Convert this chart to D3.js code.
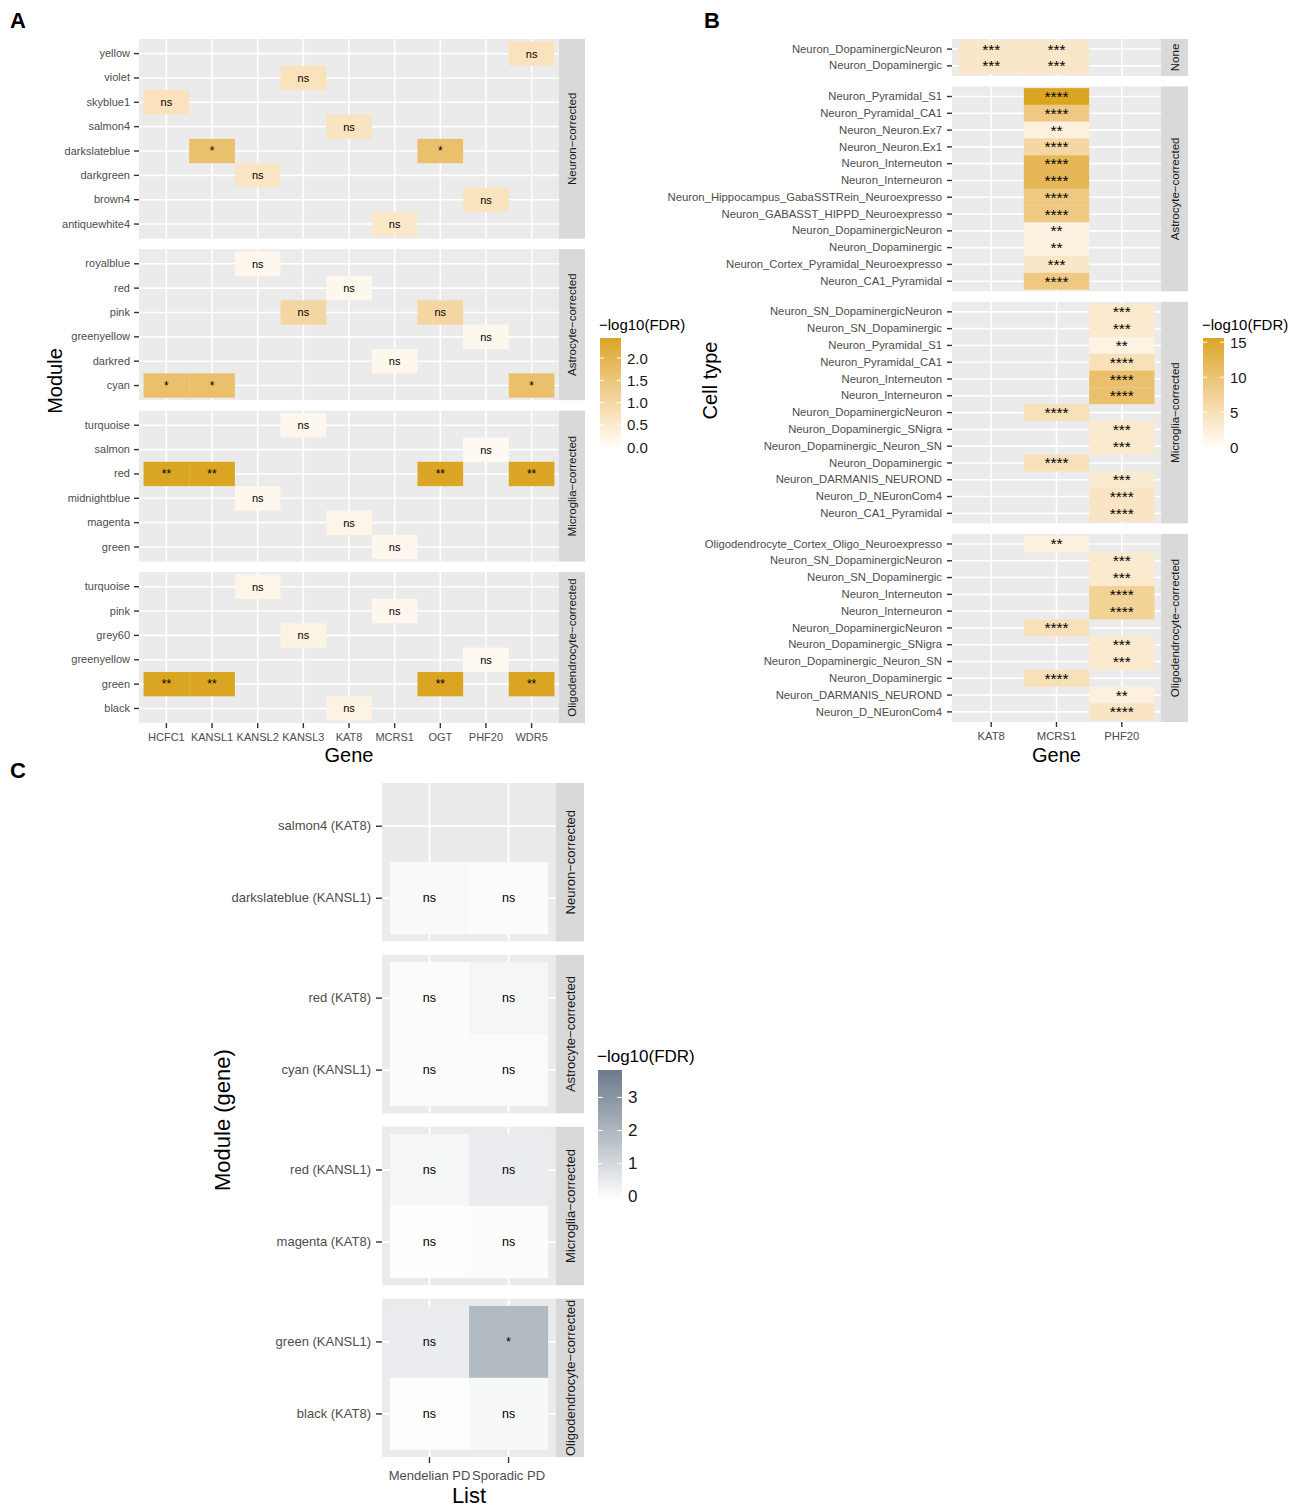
<!DOCTYPE html>
<html>
<head>
<meta charset="utf-8">
<script src="https://cdn.jsdelivr.net/npm/d3@7"></script>
<style>
  body { margin: 0; background: #fff; }
  svg { display: block; font-family: "Liberation Sans", Arial, Helvetica, sans-serif; }
</style>
</head>
<body>
<svg id="fig" width="1296" height="1510"></svg>
<script>
// ---- panel A: module x gene enrichment ----
const genesA = ["HCFC1", "KANSL1", "KANSL2", "KANSL3", "KAT8", "MCRS1", "OGT", "PHF20", "WDR5"]
const stripsA = ["Neuron−corrected", "Astrocyte−corrected", "Microglia−corrected", "Oligodendrocyte−corrected"]
const modulesA = [
  ["yellow", "violet", "skyblue1", "salmon4", "darkslateblue", "darkgreen", "brown4", "antiquewhite4"],
  ["royalblue", "red", "pink", "greenyellow", "darkred", "cyan"],
  ["turquoise", "salmon", "red", "midnightblue", "magenta", "green"],
  ["turquoise", "pink", "grey60", "greenyellow", "green", "black"]
]
// [facet, module, gene, -log10(FDR), label]
const tilesA = [
  [0, "yellow", "WDR5", 0.75, "ns"],
  [0, "violet", "KANSL3", 0.75, "ns"],
  [0, "skyblue1", "HCFC1", 0.75, "ns"],
  [0, "salmon4", "KAT8", 0.7, "ns"],
  [0, "darkslateblue", "KANSL1", 1.65, "*"],
  [0, "darkslateblue", "OGT", 1.65, "*"],
  [0, "darkgreen", "KANSL2", 0.65, "ns"],
  [0, "brown4", "PHF20", 0.7, "ns"],
  [0, "antiquewhite4", "MCRS1", 0.6, "ns"],
  [1, "royalblue", "KANSL2", 0.2, "ns"],
  [1, "red", "KAT8", 0.2, "ns"],
  [1, "pink", "KANSL3", 1.05, "ns"],
  [1, "pink", "OGT", 1.05, "ns"],
  [1, "greenyellow", "PHF20", 0.2, "ns"],
  [1, "darkred", "MCRS1", 0.2, "ns"],
  [1, "cyan", "HCFC1", 1.65, "*"],
  [1, "cyan", "KANSL1", 1.65, "*"],
  [1, "cyan", "WDR5", 1.65, "*"],
  [2, "turquoise", "KANSL3", 0.2, "ns"],
  [2, "salmon", "PHF20", 0.15, "ns"],
  [2, "red", "HCFC1", 2.39, "**"],
  [2, "red", "KANSL1", 2.39, "**"],
  [2, "red", "OGT", 2.35, "**"],
  [2, "red", "WDR5", 2.35, "**"],
  [2, "midnightblue", "KANSL2", 0.2, "ns"],
  [2, "magenta", "KAT8", 0.25, "ns"],
  [2, "green", "MCRS1", 0.2, "ns"],
  [3, "turquoise", "KANSL2", 0.25, "ns"],
  [3, "pink", "MCRS1", 0.2, "ns"],
  [3, "grey60", "KANSL3", 0.3, "ns"],
  [3, "greenyellow", "PHF20", 0.15, "ns"],
  [3, "green", "HCFC1", 2.39, "**"],
  [3, "green", "KANSL1", 2.39, "**"],
  [3, "green", "OGT", 2.39, "**"],
  [3, "green", "WDR5", 2.39, "**"],
  [3, "black", "KAT8", 0.3, "ns"]
]
const breaksA = [0, 0.5, 1, 1.5, 2]
const maxA = 2.39

// ---- panel B: cell type x gene ----
const genesB = ["KAT8", "MCRS1", "PHF20"]
const stripsB = ["None", "Astrocyte−corrected", "Microglia−corrected", "Oligodendrocyte−corrected"]
const cellTypesB = [
  ["Neuron_DopaminergicNeuron", "Neuron_Dopaminergic"],
  ["Neuron_Pyramidal_S1", "Neuron_Pyramidal_CA1", "Neuron_Neuron.Ex7", "Neuron_Neuron.Ex1",
   "Neuron_Interneuton", "Neuron_Interneuron", "Neuron_Hippocampus_GabaSSTRein_Neuroexpresso",
   "Neuron_GABASST_HIPPD_Neuroexpresso", "Neuron_DopaminergicNeuron", "Neuron_Dopaminergic",
   "Neuron_Cortex_Pyramidal_Neuroexpresso", "Neuron_CA1_Pyramidal"],
  ["Neuron_SN_DopaminergicNeuron", "Neuron_SN_Dopaminergic", "Neuron_Pyramidal_S1", "Neuron_Pyramidal_CA1",
   "Neuron_Interneuton", "Neuron_Interneuron", "Neuron_DopaminergicNeuron", "Neuron_Dopaminergic_SNigra",
   "Neuron_Dopaminergic_Neuron_SN", "Neuron_Dopaminergic", "Neuron_DARMANIS_NEUROND",
   "Neuron_D_NEuronCom4", "Neuron_CA1_Pyramidal"],
  ["Oligodendrocyte_Cortex_Oligo_Neuroexpresso", "Neuron_SN_DopaminergicNeuron", "Neuron_SN_Dopaminergic",
   "Neuron_Interneuton", "Neuron_Interneuron", "Neuron_DopaminergicNeuron", "Neuron_Dopaminergic_SNigra",
   "Neuron_Dopaminergic_Neuron_SN", "Neuron_Dopaminergic", "Neuron_DARMANIS_NEUROND", "Neuron_D_NEuronCom4"]
]
const tilesB = [
  [0, "Neuron_DopaminergicNeuron", "KAT8", 4, "***"],
  [0, "Neuron_DopaminergicNeuron", "MCRS1", 4, "***"],
  [0, "Neuron_Dopaminergic", "KAT8", 4, "***"],
  [0, "Neuron_Dopaminergic", "MCRS1", 4, "***"],
  [1, "Neuron_Pyramidal_S1", "MCRS1", 15.2, "****"],
  [1, "Neuron_Pyramidal_CA1", "MCRS1", 9, "****"],
  [1, "Neuron_Neuron.Ex7", "MCRS1", 2.3, "**"],
  [1, "Neuron_Neuron.Ex1", "MCRS1", 6.5, "****"],
  [1, "Neuron_Interneuton", "MCRS1", 12, "****"],
  [1, "Neuron_Interneuron", "MCRS1", 12, "****"],
  [1, "Neuron_Hippocampus_GabaSSTRein_Neuroexpresso", "MCRS1", 9, "****"],
  [1, "Neuron_GABASST_HIPPD_Neuroexpresso", "MCRS1", 9, "****"],
  [1, "Neuron_DopaminergicNeuron", "MCRS1", 2.2, "**"],
  [1, "Neuron_Dopaminergic", "MCRS1", 2.2, "**"],
  [1, "Neuron_Cortex_Pyramidal_Neuroexpresso", "MCRS1", 4, "***"],
  [1, "Neuron_CA1_Pyramidal", "MCRS1", 9, "****"],
  [2, "Neuron_SN_DopaminergicNeuron", "PHF20", 3.5, "***"],
  [2, "Neuron_SN_Dopaminergic", "PHF20", 3.5, "***"],
  [2, "Neuron_Pyramidal_S1", "PHF20", 2, "**"],
  [2, "Neuron_Pyramidal_CA1", "PHF20", 5, "****"],
  [2, "Neuron_Interneuton", "PHF20", 10.5, "****"],
  [2, "Neuron_Interneuron", "PHF20", 10.5, "****"],
  [2, "Neuron_DopaminergicNeuron", "MCRS1", 5, "****"],
  [2, "Neuron_Dopaminergic_SNigra", "PHF20", 3.5, "***"],
  [2, "Neuron_Dopaminergic_Neuron_SN", "PHF20", 3.5, "***"],
  [2, "Neuron_Dopaminergic", "MCRS1", 5, "****"],
  [2, "Neuron_DARMANIS_NEUROND", "PHF20", 3.3, "***"],
  [2, "Neuron_D_NEuronCom4", "PHF20", 4.3, "****"],
  [2, "Neuron_CA1_Pyramidal", "PHF20", 4.3, "****"],
  [3, "Oligodendrocyte_Cortex_Oligo_Neuroexpresso", "MCRS1", 2.3, "**"],
  [3, "Neuron_SN_DopaminergicNeuron", "PHF20", 3.5, "***"],
  [3, "Neuron_SN_Dopaminergic", "PHF20", 3.5, "***"],
  [3, "Neuron_Interneuton", "PHF20", 7.5, "****"],
  [3, "Neuron_Interneuron", "PHF20", 7.5, "****"],
  [3, "Neuron_DopaminergicNeuron", "MCRS1", 5, "****"],
  [3, "Neuron_Dopaminergic_SNigra", "PHF20", 3.5, "***"],
  [3, "Neuron_Dopaminergic_Neuron_SN", "PHF20", 3.5, "***"],
  [3, "Neuron_Dopaminergic", "MCRS1", 5, "****"],
  [3, "Neuron_DARMANIS_NEUROND", "PHF20", 2.3, "**"],
  [3, "Neuron_D_NEuronCom4", "PHF20", 4.3, "****"]
]
const breaksB = [0, 5, 10, 15]
const maxB = 15.2

// ---- panel C: module (gene) x PD list ----
const listsC = ["Mendelian PD", "Sporadic PD"]
const stripsC = ["Neuron−corrected", "Astrocyte−corrected", "Microglia−corrected", "Oligodendrocyte−corrected"]
const modulesC = [
  ["salmon4 (KAT8)", "darkslateblue (KANSL1)"],
  ["red (KAT8)", "cyan (KANSL1)"],
  ["red (KANSL1)", "magenta (KAT8)"],
  ["green (KANSL1)", "black (KAT8)"]
]
const tilesC = [
  [0, "darkslateblue (KANSL1)", "Mendelian PD", 0.15, "ns"],
  [0, "darkslateblue (KANSL1)", "Sporadic PD", 0.08, "ns"],
  [1, "red (KAT8)", "Mendelian PD", 0.08, "ns"],
  [1, "red (KAT8)", "Sporadic PD", 0.25, "ns"],
  [1, "cyan (KANSL1)", "Mendelian PD", 0.08, "ns"],
  [1, "cyan (KANSL1)", "Sporadic PD", 0.1, "ns"],
  [2, "red (KANSL1)", "Mendelian PD", 0.25, "ns"],
  [2, "red (KANSL1)", "Sporadic PD", 0.5, "ns"],
  [2, "magenta (KAT8)", "Mendelian PD", 0.04, "ns"],
  [2, "magenta (KAT8)", "Sporadic PD", 0.08, "ns"],
  [3, "green (KANSL1)", "Mendelian PD", 0.5, "ns"],
  [3, "green (KANSL1)", "Sporadic PD", 1.9, "*"],
  [3, "black (KAT8)", "Mendelian PD", 0.04, "ns"],
  [3, "black (KAT8)", "Sporadic PD", 0.2, "ns"]
]
const breaksC = [0, 1, 2, 3]
const maxC = 3.73

const svg = d3.select("#fig")
svg.append("rect").attr("width", 1296).attr("height", 1510).attr("fill", "#fff")

var styleAxis = (g, fs) => {
  g.attr("font-family", null).attr("font-size", fs)
  g.select(".domain").remove()
  g.selectAll(".tick line").attr("stroke", "#333").attr("stroke-width", 1.4)
  g.selectAll(".tick text").attr("fill", "#4D4D4D")
}

function heatmap(o) {
  const g = svg.append("g")
  const x = d3.scaleBand().domain(o.xCats).range([o.left, o.left + o.width]).paddingOuter(0.1).paddingInner(0)
  let top = o.top
  o.rows.forEach((rows, i) => {
    const h = (rows.length + 0.2) * o.step
    const y = d3.scaleBand().domain(rows).range([top, top + h]).paddingOuter(0.1).paddingInner(0)
    const p = g.append("g")
    p.append("rect").attr("x", o.left).attr("y", top).attr("width", o.width).attr("height", h).attr("fill", "#EBEBEB")
    p.selectAll("line.vg").data(o.xCats).join("line")
      .attr("x1", d => x(d) + x.bandwidth() / 2).attr("x2", d => x(d) + x.bandwidth() / 2)
      .attr("y1", top).attr("y2", top + h)
      .attr("stroke", "#fff").attr("stroke-width", o.gridW)
    p.selectAll("line.hg").data(rows).join("line")
      .attr("x1", o.left).attr("x2", o.left + o.width)
      .attr("y1", d => y(d) + y.bandwidth() / 2).attr("y2", d => y(d) + y.bandwidth() / 2)
      .attr("stroke", "#fff").attr("stroke-width", o.gridW)
    const cells = o.tiles.filter(t => t[0] === i)
    p.selectAll("rect.tile").data(cells).join("rect")
      .attr("x", d => x(d[2])).attr("y", d => y(d[1]))
      .attr("width", x.bandwidth()).attr("height", y.bandwidth())
      .attr("fill", d => o.color(d[3]))
    p.selectAll("text.cell").data(cells).join("text")
      .attr("x", d => x(d[2]) + x.bandwidth() / 2)
      .attr("y", d => y(d[1]) + y.bandwidth() / 2)
      .attr("text-anchor", "middle").attr("dominant-baseline", "central")
      .attr("font-size", d => d[4] === "ns" ? o.cellFs : o.starFs).attr("fill", "#000")
      .text(d => d[4])
    p.append("g").attr("transform", `translate(${o.left},0)`)
      .call(d3.axisLeft(y).tickSize(o.yTick).tickPadding(o.yPad))
      .call(a => styleAxis(a, o.tickFs))
    p.append("rect").attr("x", o.left + o.width).attr("y", top)
      .attr("width", o.stripW).attr("height", h).attr("fill", "#D9D9D9")
    p.append("text")
      .attr("transform", `translate(${o.left + o.width + o.stripW / 2},${top + h / 2}) rotate(-90)`)
      .attr("text-anchor", "middle").attr("dominant-baseline", "central")
      .attr("font-size", o.stripFs).attr("fill", "#1A1A1A")
      .text(o.strips[i])
    top += h + o.gap
  })
  const bottom = top - o.gap
  g.append("g").attr("transform", `translate(0,${bottom})`)
    .call(d3.axisBottom(x).tickSize(o.yTick).tickPadding(o.xPad))
    .call(a => styleAxis(a, o.tickFs))
  g.append("text").attr("x", o.left + o.width / 2).attr("y", o.xTitleY)
    .attr("text-anchor", "middle").attr("dominant-baseline", "central")
    .attr("font-size", o.titleFs).attr("fill", "#000").text(o.xTitle)
  g.append("text")
    .attr("transform", `translate(${o.yTitleX},${(o.top + bottom) / 2}) rotate(-90)`)
    .attr("text-anchor", "middle").attr("dominant-baseline", "central")
    .attr("font-size", o.titleFs).attr("fill", "#000").text(o.yTitle)
}

function legend(o) {
  const id = "grad" + o.id
  const grad = svg.append("defs").append("linearGradient").attr("id", id)
    .attr("x1", 0).attr("y1", 1).attr("x2", 0).attr("y2", 0)
  d3.range(21).forEach(k => {
    grad.append("stop").attr("offset", k / 20).attr("stop-color", o.color(o.max * k / 20))
  })
  const inset = o.h * 0.025
  const s = d3.scaleLinear().domain([0, o.max]).range([o.y + o.h - inset, o.y + inset])
  const g = svg.append("g")
  g.append("text").attr("x", o.x - 1).attr("y", o.y - 14).attr("dominant-baseline", "central")
    .attr("font-size", o.fs).attr("fill", "#000").text("−log10(FDR)")
  g.append("rect").attr("x", o.x).attr("y", o.y).attr("width", o.w).attr("height", o.h)
    .attr("fill", `url(#${id})`)
  o.breaks.forEach(b => {
    g.append("line").attr("x1", o.x).attr("x2", o.x + o.w / 5).attr("y1", s(b)).attr("y2", s(b))
      .attr("stroke", "#fff").attr("stroke-width", 1)
    g.append("line").attr("x1", o.x + o.w * 0.8).attr("x2", o.x + o.w).attr("y1", s(b)).attr("y2", s(b))
      .attr("stroke", "#fff").attr("stroke-width", 1)
    g.append("text").attr("x", o.x + o.w + 6).attr("y", s(b)).attr("dominant-baseline", "central")
      .attr("font-size", o.fs).attr("fill", "#1A1A1A").text(o.fmt(b))
  })
}

const gold = d3.scaleLinear().domain([0, 1]).range(["white", "goldenrod"]).interpolate(d3.interpolateLab)
const colorA = v => gold(v / maxA)
const colorB = v => gold(v / maxB)
const slate = d3.scaleLinear().domain([0, maxC]).range(["white", "#6C7B8B"]).interpolate(d3.interpolateLab)

heatmap({ left: 139, width: 420, top: 39, step: 24.35, gap: 10.5, xCats: genesA, rows: modulesA,
  tiles: tilesA, strips: stripsA, color: colorA, stripW: 26, gridW: 1.6,
  yTick: 5, yPad: 4, xPad: 5,
  tickFs: 11, stripFs: 11.5, cellFs: 11, starFs: 12, titleFs: 20,
  xTitle: "Gene", xTitleY: 755, yTitle: "Module", yTitleX: 55 })

heatmap({ left: 952, width: 209, top: 39, step: 16.79, gap: 10.5, xCats: genesB, rows: cellTypesB,
  tiles: tilesB, strips: stripsB, color: colorB, stripW: 27, gridW: 1.6,
  yTick: 5, yPad: 5, xPad: 5,
  tickFs: 11.3, stripFs: 11.5, cellFs: 11, starFs: 15.5, titleFs: 20,
  xTitle: "Gene", xTitleY: 755, yTitle: "Cell type", yTitleX: 710 })

heatmap({ left: 382, width: 174, top: 783, step: 72, gap: 13.5, xCats: listsC, rows: modulesC,
  tiles: tilesC, strips: stripsC, color: slate, stripW: 28, gridW: 1.8,
  yTick: 6, yPad: 5, xPad: 8,
  tickFs: 13, stripFs: 13, cellFs: 12.5, starFs: 12.5, titleFs: 22,
  xTitle: "List", xTitleY: 1495, yTitle: "Module (gene)", yTitleX: 222 })

legend({ id: "A", x: 600, y: 338, w: 21, h: 112, max: maxA, breaks: breaksA, color: colorA,
  fs: 15, fmt: d3.format(".1f") })
legend({ id: "B", x: 1203, y: 338, w: 21, h: 112, max: maxB, breaks: breaksB, color: colorB,
  fs: 15, fmt: d3.format("d") })
legend({ id: "C", x: 598, y: 1070, w: 24, h: 130, max: maxC, breaks: breaksC, color: slate,
  fs: 17, fmt: d3.format("d") })

// panel tags
const tags = [["A", 10, 20], ["B", 704, 20], ["C", 10, 770]]
svg.selectAll("text.tag").data(tags).join("text")
  .attr("x", d => d[1]).attr("y", d => d[2])
  .attr("dominant-baseline", "central")
  .attr("font-size", 22).attr("font-weight", "bold").attr("fill", "#000")
  .text(d => d[0])
</script>
</body>
</html>
